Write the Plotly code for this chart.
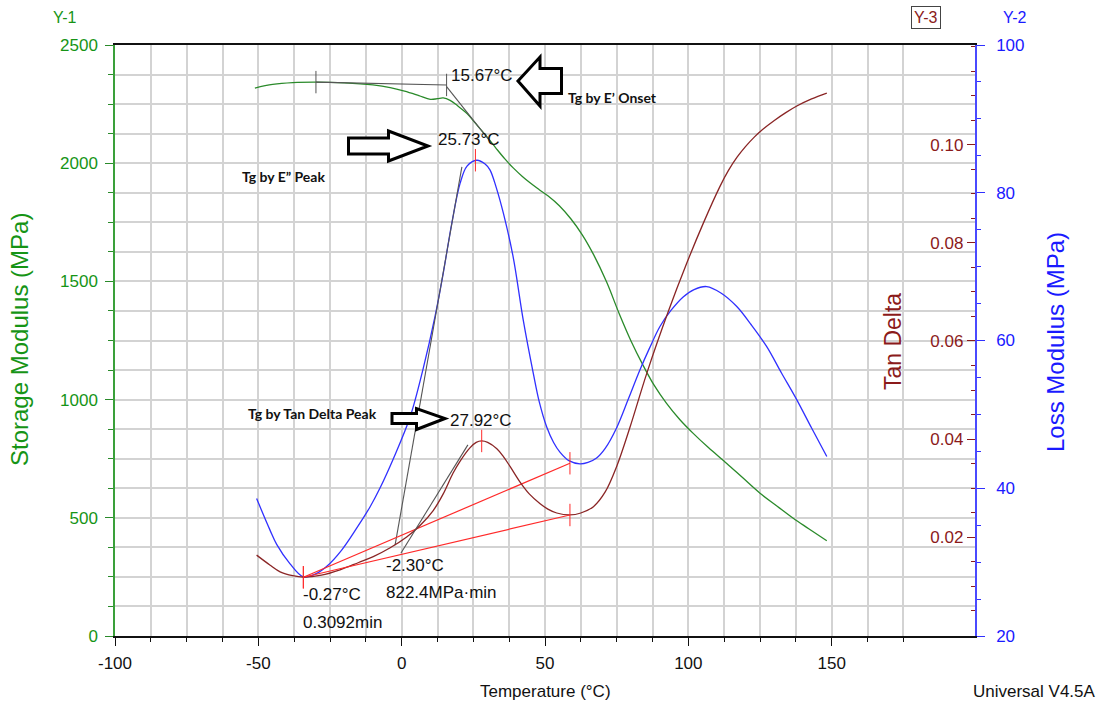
import plotly.graph_objects as go

# ---------------- data ----------------
storage_temp = [-51.2, -45, -38, -30, -20, -10, -4, 1, 6, 10, 12.5, 14.5, 16.9, 19.5, 22.8, 26,
                29.8, 33, 36, 39, 42, 45, 48, 51, 55, 59, 63, 67, 71.5, 76, 80, 84, 88, 92.4,
                97, 101.7, 107, 113.4, 119, 125, 131, 136.6, 142, 148.3]
storage_mpa = [2318, 2333, 2341, 2343, 2340, 2331, 2320, 2305, 2286, 2270, 2273, 2276, 2266, 2243,
               2210, 2165, 2111, 2062, 2018, 1979, 1945, 1915, 1888, 1862, 1820, 1765, 1697, 1612,
               1497, 1360, 1248, 1150, 1062, 984, 916, 857, 797, 730, 669, 604, 549, 498, 454, 403]

loss_temp = [-50.6, -46, -43.6, -39, -34.3, -30, -26.2, -21, -15.7, -11, -7.6, -2.9, 2.9, 7.5,
             11.6, 14.5, 17.5, 20.4, 22.8, 26.2, 29.1, 30.8, 33, 35.5, 38.9, 42.4, 45.9, 48,
             50.6, 53, 55.2, 58.5, 62.2, 65, 68, 71, 75, 79, 83.1, 86.5, 90.1, 94, 98.2, 102,
             106.4, 111.5, 116.9, 122, 127.3, 132.5, 137.8, 143, 148.3]
loss_mpa = [38.6, 34.4, 32.4, 29.8, 28.0, 28.4, 29.4, 31.6, 34.6, 37.5, 40.0, 44.0, 49.6, 56.2,
            63.2, 69.1, 75.9, 81.3, 83.6, 84.4, 83.9, 83.1, 80.7, 77.2, 71.3, 62.8, 55.6, 51.7,
            48.3, 46.2, 44.9, 43.7, 43.3, 43.5, 44.1, 45.4, 48.2, 52.0, 56.0, 59.0, 61.9, 64.1,
            65.9, 66.9, 67.3, 66.4, 64.6, 62.1, 59.2, 55.6, 52.0, 48.15, 44.3]

tan_temp = [-50.6, -46, -42.4, -38, -34.3, -28, -21.5, -15, -9.9, -4, 1.75, 6.5, 11.0, 14.5,
            17.9, 20.4, 23.8, 26, 27.9, 30, 33.2, 35.5, 37.8, 41.3, 44.5, 48.3, 51, 54.1, 58.7,
            62.5, 66.9, 71, 75, 79.7, 85.5, 93, 99.4, 105.2, 111.0, 114, 117, 120, 123, 126,
            130, 134, 138, 143, 148.3]
tan_delta = [0.0163, 0.0143, 0.0129, 0.0121, 0.0118, 0.0122, 0.0133, 0.0148, 0.0160, 0.0178,
             0.0200, 0.0224, 0.0254, 0.0288, 0.0330, 0.0355, 0.0382, 0.0393, 0.0396, 0.0393,
             0.0380, 0.0364, 0.0344, 0.0312, 0.0288, 0.0268, 0.0257, 0.0249, 0.0245, 0.0249,
             0.0262, 0.0292, 0.0344, 0.0425, 0.0534, 0.0660, 0.0758, 0.0840, 0.0915, 0.0948,
             0.0975, 0.0997, 0.1016, 0.1032, 0.1050, 0.1066, 0.1080, 0.1094, 0.1106]

# analysis constructions
onset_base_temp = [-29.9, 15.67]
onset_base_mpa = [2343, 2331]
onset_tangent_temp = [15.67, 31.0]
onset_tangent_mpa = [2324, 2090]
loss_tangent_temp = [-2.3, 21.0]
loss_tangent_mpa = [32.3, 83.5]
tan_tangent_temp = [-0.27, 23.1]
tan_tangent_val = [0.0167, 0.0388]
loss_base_temp = [-34.3, 58.7]
loss_base_mpa = [27.95, 43.38]
tan_base_temp = [-34.3, 58.7]
tan_base_val = [0.01178, 0.02449]
loss_peak = (25.73, 84.4)
tan_peak = (27.92, 0.0396)

x_ticks = [-100, -50, 0, 50, 100, 150, 200]
storage_ticks = [0, 500, 1000, 1500, 2000, 2500]
loss_ticks = [20, 40, 60, 80, 100]
tan_ticks = [0.02, 0.04, 0.06, 0.08, 0.10]

# ---------------- styling ----------------
W, H = 1099, 706
ML, MR, MT, MB = 115, 124, 45, 70
PW, PH = W - ML - MR, H - MT - MB
FONT = "Liberation Sans, Arial, sans-serif"
GREEN_T = "#169416"
GREEN_L = "#2a8a2a"
BLUE = "#1a1aff"
BLUE_L = "#3030ff"
DRED = "#8b1a1a"
DRED_L = "#8a2525"
RED = "#ff2a2a"
GRAY = "#555555"
GRID = "#d3d3d3"


def xp(px):
    return (px - ML) / PW


def yp(py):
    return (MT + PH - py) / PH


fig = go.Figure()

line_kw = dict(shape="spline", smoothing=1.0)
fig.add_trace(go.Scatter(x=storage_temp, y=storage_mpa, mode="lines", yaxis="y",
                         line=dict(color=GREEN_L, width=1.3, **line_kw), showlegend=False))
fig.add_trace(go.Scatter(x=loss_temp, y=loss_mpa, mode="lines", yaxis="y2",
                         line=dict(color=BLUE_L, width=1.3, **line_kw), showlegend=False))
fig.add_trace(go.Scatter(x=tan_temp, y=tan_delta, mode="lines", yaxis="y3",
                         line=dict(color=DRED_L, width=1.3, **line_kw), showlegend=False))

# onset construction (gray)
fig.add_trace(go.Scatter(x=onset_base_temp, y=onset_base_mpa, mode="lines+markers", yaxis="y",
                         line=dict(color=GRAY, width=1.1),
                         marker=dict(symbol="line-ns", size=16, line=dict(color=GRAY, width=1)),
                         showlegend=False))
fig.add_trace(go.Scatter(x=onset_tangent_temp, y=onset_tangent_mpa, mode="lines", yaxis="y",
                         line=dict(color=GRAY, width=1.1), showlegend=False))
fig.add_trace(go.Scatter(x=loss_tangent_temp, y=loss_tangent_mpa, mode="lines", yaxis="y2",
                         line=dict(color=GRAY, width=1.1), showlegend=False))
fig.add_trace(go.Scatter(x=tan_tangent_temp, y=tan_tangent_val, mode="lines", yaxis="y3",
                         line=dict(color=GRAY, width=1.1), showlegend=False))
# red baselines + tick markers
fig.add_trace(go.Scatter(x=loss_base_temp, y=loss_base_mpa, mode="lines+markers", yaxis="y2",
                         line=dict(color=RED, width=1.2),
                         marker=dict(symbol="line-ns", size=16, line=dict(color=RED, width=1)),
                         showlegend=False))
fig.add_trace(go.Scatter(x=tan_base_temp, y=tan_base_val, mode="lines+markers", yaxis="y3",
                         line=dict(color=RED, width=1.2),
                         marker=dict(symbol="line-ns", size=16, line=dict(color=RED, width=1)),
                         showlegend=False))
fig.add_trace(go.Scatter(x=[loss_peak[0]], y=[loss_peak[1]], mode="markers", yaxis="y2",
                         marker=dict(symbol="line-ns", size=16, line=dict(color=RED, width=1)),
                         showlegend=False))
fig.add_trace(go.Scatter(x=[tan_peak[0]], y=[tan_peak[1]], mode="markers", yaxis="y3",
                         marker=dict(symbol="line-ns", size=16, line=dict(color=RED, width=1)),
                         showlegend=False))

tickfont = lambda c: dict(family=FONT, size=17, color=c)

fig.update_layout(
    width=W, height=H,
    margin=dict(l=ML, r=MR, t=MT, b=MB, pad=0),
    paper_bgcolor="white", plot_bgcolor="white",
    font=dict(family=FONT),
    xaxis=dict(range=[-100, 200], tickmode="array", tickvals=x_ticks,
               ticktext=[str(v) for v in x_ticks], tickfont=tickfont("#111111"),
               ticks="outside", ticklen=8, tickcolor="#111111", tickwidth=1,
               showline=True, linecolor="#111111", linewidth=1.5, mirror=True,
               showgrid=True, gridcolor=GRID, gridwidth=1.5, zeroline=False,
               ticklabelstandoff=3,
               minor=dict(tickmode="linear", tick0=-100, dtick=12.5, ticks="outside", ticklen=4,
                          tickcolor="#111111", showgrid=True, gridcolor=GRID, gridwidth=1.5)),
    yaxis=dict(range=[0, 2500], tickmode="array", tickvals=storage_ticks,
               tickfont=tickfont(GREEN_T), ticks="outside", ticklen=8, tickcolor=GREEN_L,
               showline=True, linecolor="#3aa03a", linewidth=1.5,
               showgrid=True, gridcolor=GRID, gridwidth=1.5, zeroline=False,
               ticklabelstandoff=4,
               minor=dict(tickmode="linear", tick0=0, dtick=125, ticks="outside", ticklen=5,
                          tickcolor=GREEN_L, showgrid=True, gridcolor=GRID, gridwidth=1.5)),
    yaxis2=dict(range=[20, 100], overlaying="y", side="right", anchor="x",
                tickmode="array", tickvals=loss_ticks, tickfont=tickfont(BLUE),
                ticks="outside", ticklen=8, tickcolor=BLUE_L,
                showline=True, linecolor="#4a4aff", linewidth=1.5,
                showgrid=False, zeroline=False, ticklabelstandoff=8,
                minor=dict(tickmode="linear", tick0=20, dtick=5, ticks="outside", ticklen=4,
                           tickcolor=BLUE_L, showgrid=False)),
    yaxis3=dict(range=[-0.0002, 0.1204], overlaying="y", side="right", anchor="x",
                tickmode="array", tickvals=tan_ticks, ticktext=[f"{v:.2f}" for v in tan_ticks],
                tickfont=tickfont(DRED), ticks="inside", ticklen=8, tickcolor=DRED,
                ticklabelposition="inside", showline=False, showgrid=False, zeroline=False,
                ticklabelstandoff=4,
                minor=dict(tickmode="linear", tick0=0, dtick=0.005, ticks="inside", ticklen=4,
                           tickcolor=DRED, showgrid=False)),
)


def ann(text, px, py, xanchor="left", color="#111111", size=17, angle=0, bold=False,
        family=FONT, **kw):
    fig.add_annotation(text=f"<b>{text}</b>" if bold else text, x=xp(px), y=yp(py),
                       xref="paper", yref="paper", xanchor=xanchor, yanchor="middle",
                       showarrow=False, textangle=angle,
                       font=dict(family=family, size=size, color=color), **kw)


BOLD_FONT = "Lato, Carlito, sans-serif"
ann("15.67°C", 449, 75)
ann("Tg by E’ Onset", 566, 98, size=14, bold=True, family=BOLD_FONT)
ann("25.73°C", 436, 139)
ann("Tg by E” Peak", 240, 176, size=14, bold=True, family=BOLD_FONT)
ann("Tg by Tan Delta Peak", 246, 413, size=14, bold=True, family=BOLD_FONT)
ann("27.92°C", 448, 420)
ann("-2.30°C", 384, 565)
ann("822.4MPa·min", 384, 592)
ann("-0.27°C", 301, 594)
ann("0.3092min", 301, 622)
ann("Temperature (°C)", 545, 691, xanchor="center")
ann("Universal V4.5A", 971, 691)
ann("Y-1", 65, 18, xanchor="center", color=GREEN_T, size=16)
ann("Y-3", 926, 18, xanchor="center", color=DRED, size=16,
    bordercolor="#444444", borderwidth=1, borderpad=2)
ann("Y-2", 1015, 18, xanchor="center", color=BLUE, size=16)
ann("Storage Modulus (MPa)", 19, 340, xanchor="center", color=GREEN_T, size=24, angle=-90)
ann("Tan Delta", 893, 342, xanchor="center", color=DRED, size=23, angle=-90)
ann("Loss Modulus (MPa)", 1055, 342, xanchor="center", color=BLUE, size=24, angle=-90)


def arrow_path(pts):
    return "M " + " L ".join(f"{xp(x):.5f},{yp(y):.5f}" for x, y in pts) + " Z"


arrows = [
    [(518, 81), (540, 57), (540, 68.5), (561.5, 68.5), (561.5, 93.5), (540, 93.5), (540, 106)],
    [(348.5, 138), (388.5, 138), (388.5, 131), (428, 146), (388.5, 161), (388.5, 154), (348.5, 154)],
    [(392, 413.5), (416.5, 413.5), (416.5, 408.5), (445, 418.5), (416.5, 429.5), (416.5, 423.5),
     (392, 423.5)],
]
for pts in arrows:
    fig.add_shape(type="path", path=arrow_path(pts), xref="paper", yref="paper",
                  line=dict(color="#000000", width=3), fillcolor="white", layer="above")

fig.write_html("out.html")
